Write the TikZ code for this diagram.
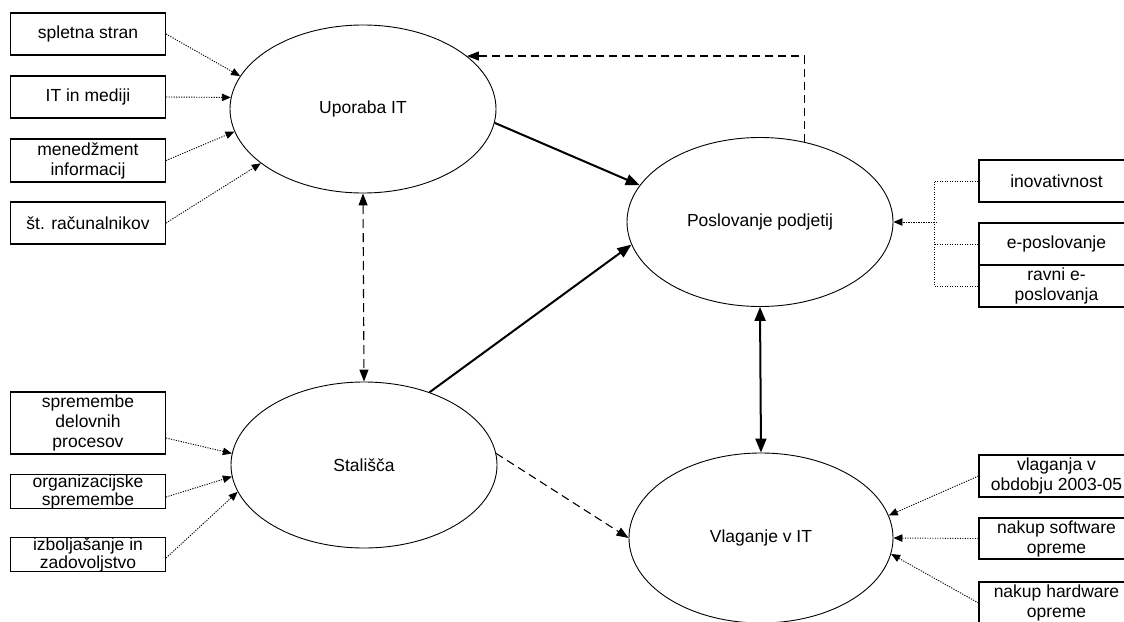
\documentclass[tikz,border=0pt]{standalone}
\usepackage{fontspec}
\setmainfont{Liberation Sans}
\usetikzlibrary{arrows.meta,shapes.geometric}

\tikzset{
  construct/.style={ellipse, draw, line width=0.9pt, inner sep=0pt,
    font=\fontsize{17.5}{20}\selectfont},
  indicator/.style={rectangle, draw, line width=1.1pt, inner sep=0pt,
    minimum width=155pt, align=center, font=\fontsize{17.5}{20}\selectfont},
  tight/.style={font=\fontsize{17.5}{18}\selectfont},
  feed/.style={line width=0.9pt, dash pattern=on 1.2pt off 1.3pt,
    -{Triangle[length=9pt,width=7.5pt]}},
  link/.style={line width=0.9pt, dash pattern=on 1.2pt off 1.3pt},
  strong/.style={line width=2pt, -{Triangle[length=14pt,width=11pt]}},
  strongboth/.style={line width=2pt, {Triangle[length=14pt,width=11pt]}-{Triangle[length=14pt,width=11pt]}},
  weak/.style={line width=1.1pt, dash pattern=on 8pt off 5pt,
    -{Triangle[length=12pt,width=9pt]}},
  weakboth/.style={line width=1.1pt, dash pattern=on 9pt off 5pt,
    {Triangle[length=12pt,width=9pt]}-{Triangle[length=12pt,width=9pt]}}
}

\begin{document}
\begin{tikzpicture}[x=1pt, y=-1pt]
\useasboundingbox (0,0) rectangle (1124,621);

% constructs
\node[construct, minimum width=266pt, minimum height=168pt] (U) at (363,109) {Uporaba IT};
\node[construct, minimum width=266pt, minimum height=169pt] (P) at (760,222) {Poslovanje podjetij};
\node[construct, minimum width=266pt, minimum height=166pt] (S) at (364,465) {Stališča};
\node[construct, minimum width=264pt, minimum height=170pt] (V) at (761,538) {Vlaganje v IT};

% indicators of Uporaba IT
\node[indicator, minimum height=42pt] (a1) at (88,34) {spletna stran};
\node[indicator, minimum height=42pt] (a2) at (88,97) {IT in mediji};
\node[indicator, minimum height=43pt] (a3) at (88,160.5) {menedžment\\informacij};
\node[indicator, minimum height=42pt] (a4) at (88,223) {št. računalnikov};

% indicators of Stališča
\node[indicator, minimum height=62pt] (b1) at (88,423) {spremembe\\delovnih\\procesov};
\node[indicator, tight, minimum height=31pt] (b2) at (88,491.5) {organizacijske\\spremembe};
\node[indicator, tight, minimum height=31pt] (b3) at (88,554.5) {izboljašanje in\\zadovoljstvo};

% indicators of Poslovanje podjetij
\node[indicator, minimum height=42pt] (c1) at (1056.5,181) {inovativnost};
\node[indicator, minimum height=42pt] (c2) at (1056.5,244) {e-poslovanje};
\node[indicator, minimum height=42pt] (c3) at (1056.5,286) {ravni e-\\poslovanja};

% indicators of Vlaganje v IT
\node[indicator, minimum height=42pt] (d1) at (1056.5,476) {vlaganja v\\obdobju 2003-05};
\node[indicator, minimum height=41pt] (d2) at (1056.5,538.5) {nakup software\\opreme};
\node[indicator, minimum height=42pt] (d3) at (1056.5,603) {nakup hardware\\opreme};

% measurement links
\draw[feed] (a1.east) -- (U.165);
\draw[feed] (a2.east) -- (U.175);
\draw[feed] (a3.east) -- (U.190);
\draw[feed] (a4.east) -- (U.208);

\draw[feed] ([yshift=-15pt]b1.east) -- (S.175);
\draw[feed] ([yshift=-5.5pt]b2.east) -- (S.185);
\draw[feed] ([yshift=-3.5pt]b3.east) -- (S.192);

\coordinate (jn) at (934,222);
\draw[link] (c1.west) -| (jn) |- (c3.west);
\draw[link] (c2.west) -- (c2.west -| jn);
\draw[feed] ([xshift=3pt]jn) -- (P.east);

\draw[feed] (d1.west) -- (V.10);
\draw[feed] (d2.west) -- (V.east);
\draw[feed] (d3.west) -- (V.-7);

% structural paths
\draw[strong] (U.-6) -- (P.163);
\draw[strong] (S.48) -- (P.190);
\draw[strongboth] (P.south) -- (V.north);
\draw[weakboth] (U.south) -- (S.north);
\draw[weak] (S.5) -- (V.west);
\draw[weak] (P.61) |- (U.27);
\end{tikzpicture}
\end{document}
